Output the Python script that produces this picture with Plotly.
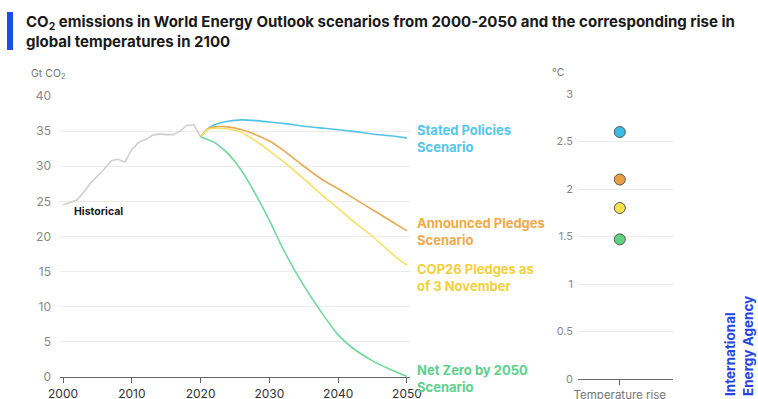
import plotly.graph_objects as go

W, H = 758, 399

hist_years = list(range(2000, 2021))
hist_vals = [24.5, 24.8, 25.2, 26.3, 27.6, 28.6, 29.6, 30.8, 31.0, 30.6, 32.4,
             33.4, 33.8, 34.4, 34.6, 34.5, 34.5, 35.0, 35.8, 35.9, 34.2]

scen_years = [2020, 2021, 2022, 2024, 2026, 2028, 2030, 2032, 2035, 2038, 2040, 2042, 2045, 2048, 2050]
stated = [34.2, 35.3, 35.9, 36.4, 36.6, 36.5, 36.3, 36.1, 35.7, 35.4, 35.2, 35.0, 34.6, 34.3, 34.0]
announced = [34.2, 35.3, 35.6, 35.6, 35.2, 34.5, 33.6, 32.3, 30.0, 27.9, 26.8, 25.6, 23.8, 22.0, 20.8]
cop26 = [34.2, 35.2, 35.4, 35.3, 34.8, 33.6, 32.2, 30.7, 28.2, 25.6, 24.0, 22.3, 20.0, 17.4, 15.9]
netzero = [34.2, 33.8, 33.4, 31.8, 29.3, 26.0, 22.3, 18.2, 13.0, 8.6, 6.0, 4.2, 2.3, 0.9, 0.1]

scen_names = ["Stated Policies<br>Scenario", "Announced Pledges<br>Scenario",
              "COP26 Pledges as<br>of 3 November", "Net Zero by 2050<br>Scenario"]
temps = [2.6, 2.1, 1.8, 1.47]

line_colors = ["#52c3e6", "#e6ab55", "#f7e067", "#6fd79a"]
text_colors = ["#55c6ea", "#f0aa48", "#f3cf3c", "#5fd08c"]
dot_colors = ["#3cbde8", "#e8a043", "#f7e24a", "#5fd37f"]
label_y = [138, 231, 277, 378]  # pixel centers of labels

def px(x):
    return x / W

def py(y):
    return 1 - y / H

fig = go.Figure()
fig.add_trace(go.Scatter(x=hist_years, y=hist_vals, mode="lines",
                         line=dict(color="#cfcfcf", width=1.6), xaxis="x", yaxis="y",
                         showlegend=False, hoverinfo="skip"))
for vals, c in zip([stated, announced, cop26, netzero], line_colors):
    fig.add_trace(go.Scatter(x=scen_years, y=vals, mode="lines",
                             line=dict(color=c, width=1.6, shape="spline", smoothing=0.6),
                             xaxis="x", yaxis="y", showlegend=False, hoverinfo="skip"))
for t, c in zip(temps, dot_colors):
    fig.add_trace(go.Scatter(x=[0], y=[t], mode="markers",
                             marker=dict(size=11, color=c, line=dict(color="#555555", width=1)),
                             xaxis="x2", yaxis="y2", showlegend=False, hoverinfo="skip"))

ann = []
ann.append(dict(text="<b>CO<sub>2</sub> emissions in World Energy Outlook scenarios from 2000-2050 and the corresponding rise in<br>global temperatures in 2100</b>",
                x=px(24), y=py(10), xref="paper", yref="paper", xanchor="left", yanchor="top",
                align="left", showarrow=False, font=dict(family="Inter", size=15, color="#1a1a1a")))
ann.append(dict(text="Gt CO<sub>2</sub>", x=px(29), y=py(74), xref="paper", yref="paper",
                xanchor="left", yanchor="middle", showarrow=False,
                font=dict(family="Inter", size=10.5, color="#777777")))
ann.append(dict(text="°C", x=px(550), y=py(72), xref="paper", yref="paper",
                xanchor="left", yanchor="middle", showarrow=False,
                font=dict(family="Inter", size=10.5, color="#777777")))
ann.append(dict(text="<b>Historical</b>", x=px(72), y=py(211), xref="paper", yref="paper",
                xanchor="left", yanchor="middle", showarrow=False,
                font=dict(family="Inter", size=10.5, color="#1a1a1a")))
for name, c, ly in zip(scen_names, text_colors, label_y):
    ann.append(dict(text=f"<b>{name}</b>", x=px(415), y=py(ly), xref="paper", yref="paper",
                    xanchor="left", yanchor="middle", align="left", showarrow=False,
                    font=dict(family="Inter", size=13, color=c)))
ann.append(dict(text="<b>International<br>Energy Agency</b>", x=px(739), y=py(398), xref="paper", yref="paper",
                xanchor="center", yanchor="bottom", align="left", textangle=-90, showarrow=False,
                font=dict(family="Inter", size=13.5, color="#2545e0")))

fig.update_layout(
    width=W, height=H, margin=dict(l=0, r=0, t=0, b=0, autoexpand=False),
    paper_bgcolor="white", plot_bgcolor="white",
    font=dict(family="Inter", color="#777777"),
    xaxis=dict(domain=[px(60), px(410)], range=[1999.56, 2050.44], automargin=False,
               tickvals=[2000, 2010, 2020, 2030, 2040, 2050], showgrid=False,
               showline=True, linecolor="#666666", linewidth=1.3,
               ticks="outside", ticklen=5, tickcolor="#666666",
               tickfont=dict(size=12, color="#333333"), zeroline=False, fixedrange=True),
    yaxis=dict(domain=[py(377), py(96)], range=[0, 40], tickvals=list(range(0, 41, 5)),
               automargin=False,
               showgrid=True, gridcolor="#ececec", gridwidth=1, zeroline=False,
               ticks="", ticklabelstandoff=8,
               tickfont=dict(size=12, color="#888888"), showline=False),
    xaxis2=dict(domain=[px(578), px(673)], range=[-0.44, 0.56], anchor="y2", automargin=False,
                tickvals=[0], ticktext=["Temperature rise"], showgrid=False,
                showline=True, linecolor="#666666", linewidth=1.3,
                ticks="outside", ticklen=5, tickcolor="#666666",
                tickfont=dict(size=11.5, color="#777777"), zeroline=False),
    yaxis2=dict(domain=[py(379), py(94)], range=[0, 3], anchor="x2", automargin=False,
                tickvals=[0, 0.5, 1, 1.5, 2, 2.5, 3], ticktext=["0", "0.5", "1", "1.5", "2", "2.5", "3"],
                showgrid=True, gridcolor="#ececec", zeroline=False, ticks="", ticklabelstandoff=4,
                tickfont=dict(size=11, color="#888888")),
    annotations=ann,
    shapes=[dict(type="rect", xref="paper", yref="paper", x0=px(7), x1=px(13), y0=py(50), y1=py(12),
                 fillcolor="#1f4de8", line=dict(width=0))],
)

fig.write_html("out.html")
